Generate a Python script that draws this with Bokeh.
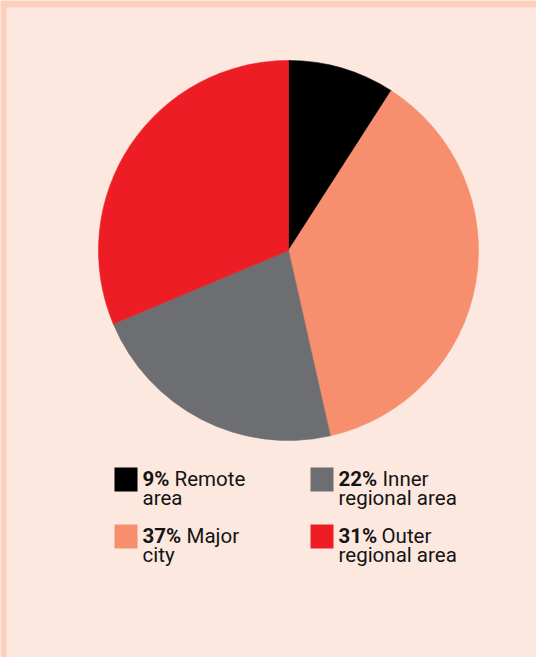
import math
from bokeh.plotting import figure
from bokeh.models import ColumnDataSource, Range1d
from bokeh.core.properties import value
from bokeh.embed import file_html
from bokeh.resources import INLINE

# ---- data ----
labels = ["Remote area", "Major city", "Inner regional area", "Outer regional area"]
values = [9, 37, 22, 31]
colors = ["#000000", "#F78F6E", "#6D6E71", "#EE1D25"]

# legend order (reading order in the key)
legend_order = ["Remote area", "Inner regional area", "Major city", "Outer regional area"]

# ---- styles / layout ----
BG = "#FCE8DF"
BORDER = "#FDD0BE"
TEXT = "#141414"
FONT = "Roboto"
FS = "20.5px"
W, H = 536, 657


def Y(abs_y):
    return H - abs_y


p = figure(width=W, height=H, output_backend="svg", toolbar_location=None,
           x_range=Range1d(0, W), y_range=Range1d(0, H),
           min_border=0, outline_line_color=None,
           background_fill_color=BG, border_fill_color=BG)
p.axis.visible = False
p.grid.visible = False

# frame border (top and left strip)
p.quad(left=[0, 0], right=[6, W], bottom=[Y(H), Y(7)], top=[Y(0), Y(0)],
       fill_color=BORDER, line_color=None)

# ---- pie ----
total = float(sum(values))
starts, ends = [], []
cum = 0.0
for v in values:
    starts.append(math.pi / 2 - 2 * math.pi * cum / total)
    cum += v
    ends.append(math.pi / 2 - 2 * math.pi * cum / total)

src = ColumnDataSource(dict(start=starts, end=ends, color=colors, label=labels))
p.wedge(x=288, y=Y(250), radius=190, start_angle="start", end_angle="end",
        direction="clock", fill_color="color", line_color="color", line_width=0.6,
        source=src)

# ---- legend ----
col_x = [114, 310]
row_top = [467, 524]
sq_w, sq_h = 23, 24
text_dx = 28
bold_w = {"9%": 32, "37%": 44, "22%": 44, "31%": 43}
line1_dy = -1   # from square top to top of first text line
line2_dy = 18

for i, lab in enumerate(legend_order):
    k = labels.index(lab)
    col, row = i % 2, i // 2
    x0 = col_x[col]
    top = row_top[row]
    p.quad(left=[x0], right=[x0 + sq_w], top=[Y(top)], bottom=[Y(top + sq_h)],
           fill_color=colors[k], line_color=None)
    num = f"{values[k]}%"
    first, rest = lab.split(" ", 1)
    tx = x0 + text_dx
    p.text(x=[tx], y=[Y(top + line1_dy)], text=[num], text_font=value(FONT),
           text_font_size=FS, text_font_style="bold", text_color=TEXT,
           text_baseline="top", text_align="left")
    p.text(x=[tx + bold_w.get(num, 40)], y=[Y(top + line1_dy)], text=[first],
           text_font=value(FONT), text_font_size=FS, text_color=TEXT,
           text_baseline="top", text_align="left")
    p.text(x=[tx], y=[Y(top + line2_dy)], text=[rest], text_font=value(FONT),
           text_font_size=FS, text_color=TEXT,
           text_baseline="top", text_align="left")

open("out.html", "w").write(file_html(p, INLINE))
